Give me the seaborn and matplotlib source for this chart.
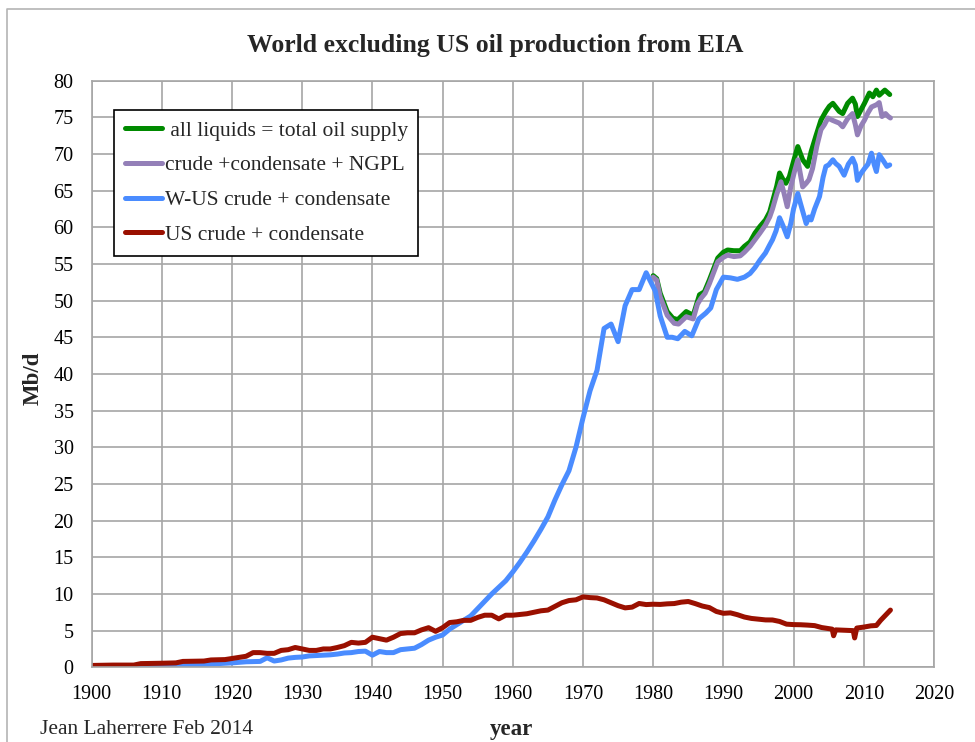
import numpy as np
import pandas as pd
import matplotlib
matplotlib.use("Agg")
import matplotlib.pyplot as plt
from matplotlib.lines import Line2D
import seaborn as sns

# values (Mb/d)
us_years = [1900, 1903, 1906, 1907, 1910, 1912, 1913, 1916, 1917, 1919, 1920, 1921, 1922, 1923,
            1924, 1925, 1926, 1927, 1928, 1929, 1930, 1931, 1932, 1933, 1934, 1935, 1936, 1937,
            1938, 1939, 1940, 1941, 1942, 1943, 1944, 1945, 1946, 1947, 1948, 1949, 1950, 1951,
            1952, 1953, 1954, 1955, 1956, 1957, 1958, 1959, 1960, 1961, 1962, 1963, 1964, 1965,
            1966, 1967, 1968, 1969, 1970, 1971, 1972, 1973, 1974, 1975, 1976, 1977, 1978, 1979,
            1980, 1981, 1982, 1983, 1984, 1985, 1986, 1987, 1988, 1989, 1990, 1991, 1992, 1993,
            1994, 1995, 1996, 1997, 1998, 1999, 2000, 2001, 2002, 2003, 2004, 2005.5, 2005.7,
            2006, 2007, 2008.5, 2008.7, 2009, 2010, 2011, 2011.8, 2012.4, 2013, 2013.8]
us_crude = [0.25, 0.3, 0.3, 0.5, 0.55, 0.6, 0.8, 0.85, 1.0, 1.05, 1.2, 1.35, 1.5, 2.0,
            2.0, 1.9, 1.9, 2.3, 2.4, 2.7, 2.5, 2.3, 2.3, 2.5, 2.5, 2.7, 2.95, 3.4,
            3.3, 3.4, 4.1, 3.9, 3.7, 4.1, 4.6, 4.7, 4.7, 5.1, 5.4, 4.9, 5.4, 6.1,
            6.2, 6.4, 6.4, 6.8, 7.1, 7.1, 6.6, 7.1, 7.1, 7.2, 7.3, 7.5, 7.7, 7.8,
            8.3, 8.8, 9.1, 9.2, 9.6, 9.5, 9.45, 9.2, 8.8, 8.4, 8.1, 8.2, 8.7, 8.55,
            8.6, 8.57, 8.65, 8.69, 8.88, 8.97, 8.68, 8.35, 8.14, 7.61, 7.36, 7.42, 7.17, 6.85,
            6.66, 6.56, 6.46, 6.45, 6.25, 5.88, 5.82, 5.8, 5.75, 5.68, 5.42, 5.2, 4.3,
            5.1, 5.06, 5.0, 4.0, 5.35, 5.48, 5.65, 5.7, 6.4, 7.0, 7.8]

wus_years = [1900, 1905, 1910, 1915, 1918, 1920, 1922, 1924, 1925, 1926, 1927, 1928, 1929, 1930,
             1931, 1932, 1933, 1934, 1935, 1936, 1937, 1938, 1939, 1940, 1941, 1942, 1943, 1944,
             1945, 1946, 1947, 1948, 1949, 1950, 1951, 1952, 1953, 1954, 1955, 1956, 1957, 1958,
             1959, 1960, 1961, 1962, 1963, 1964, 1965, 1966, 1967, 1968, 1969, 1970, 1971, 1972,
             1973, 1974, 1975, 1976, 1977, 1978, 1979, 1980.3, 1981, 1982, 1982.7, 1983.5, 1984.5,
             1985.5, 1986.5, 1987.5, 1988.2, 1989, 1990, 1991, 1992, 1993, 1993.8, 1994.5, 1995.2,
             1996, 1996.6, 1997, 1997.5, 1998, 1998.5, 1999.1, 1999.6, 2000, 2000.6, 2001, 2001.8,
             2002.2, 2002.5, 2003, 2003.7, 2004.2, 2004.6, 2005, 2005.6, 2006, 2006.5, 2007.2,
             2007.8, 2008.4, 2008.8, 2009.1, 2009.5, 2010.1, 2010.6, 2011.1, 2011.5, 2011.8, 2012.2,
             2012.7, 2013.3, 2013.7]
wus_crude = [0.15, 0.2, 0.2, 0.35, 0.5, 0.6, 0.75, 0.8, 1.3, 0.85, 1.0, 1.25, 1.35, 1.4,
             1.55, 1.6, 1.65, 1.7, 1.8, 1.95, 2.0, 2.15, 2.2, 1.65, 2.15, 2.0, 2.0, 2.4,
             2.5, 2.6, 3.1, 3.7, 4.1, 4.4, 5.2, 5.8, 6.4, 7.0, 8.0, 9.0, 10.0, 10.9,
             11.8, 13.0, 14.3, 15.7, 17.2, 18.8, 20.5, 22.8, 24.9, 26.8, 30.0, 34.0, 37.7, 40.5,
             46.2, 46.8, 44.4, 49.3, 51.5, 51.5, 53.8, 51.3, 47.9, 45.0, 45.0, 44.8, 45.8,
             45.2, 47.5, 48.3, 49.0, 51.5, 53.2, 53.1, 52.9, 53.2, 53.7, 54.5, 55.5,
             56.5, 57.6, 58.3, 59.5, 61.3, 60.2, 58.7, 60.5, 62.5, 64.6, 63.2, 60.5,
             61.4, 61.0, 62.5, 64.2, 66.8, 68.3, 68.5, 69.2, 68.7, 68.3, 67.1,
             68.6, 69.4, 68.5, 66.4, 67.2, 68.0, 68.6, 70.1, 68.5, 67.6, 69.9,
             69.2, 68.3, 68.5]

ngpl_years = [1980, 1980.5, 1981, 1982, 1983, 1983.6, 1984.7, 1985.7, 1986.3, 1986.8, 1987.4, 1988,
              1989.2, 1990, 1990.6, 1991.5, 1992.4, 1993, 1993.8, 1994.5, 1995.2, 1996, 1996.6,
              1997, 1997.6, 1998.2, 1998.6, 1999.1, 1999.6, 2000.1, 2000.6, 2001.3, 2001.8, 2002.2,
              2002.7, 2003.3, 2003.9, 2004.4, 2004.9, 2005.5, 2006, 2006.5, 2007, 2007.7, 2008.4,
              2008.8, 2009.1, 2009.6, 2010.1, 2010.6, 2011.1, 2011.8, 2012.2, 2012.6, 2013.1,
              2013.5, 2013.8]
crude_ngpl = [53.2, 52.8, 50.5, 48.0, 46.9, 46.8, 47.8, 47.5, 49.5, 50.3, 51.0, 52.3,
              55.3, 55.9, 56.2, 56.0, 56.1, 56.6, 57.4, 58.3, 59.2, 60.3, 61.4,
              62.5, 64.5, 66.2, 64.8, 62.8, 65.5, 67.5, 69.2, 65.5, 66.0, 66.5,
              68.0, 71.0, 73.3, 74.0, 74.9, 74.6, 74.4, 74.2, 73.7, 74.8, 75.5,
              74.0, 72.6, 73.8, 74.6, 75.6, 76.4, 76.7, 77.0, 75.1, 75.5,
              75.1, 74.9]

liq_years = [1980, 1980.5, 1981, 1982, 1982.8, 1983.5, 1984.7, 1985.7, 1986.6, 1987.3, 1988, 1989.2,
             1990, 1990.6, 1991.5, 1992.4, 1993, 1993.8, 1994.5, 1995.2, 1996, 1996.6, 1997,
             1997.6, 1998, 1998.5, 1998.9, 1999.4, 2000, 2000.6, 2001.3, 2002, 2002.5, 2003.2,
             2003.9, 2004.6, 2005.1, 2005.6, 2006.5, 2007, 2007.7, 2008.4, 2008.8, 2009.1,
             2009.6, 2010.1, 2010.8, 2011.3, 2011.8, 2012.2, 2013, 2013.7]
all_liquids = [53.4, 53.0, 51.0, 48.5, 47.6, 47.4, 48.5, 48.0, 50.8, 51.2, 52.8, 55.8,
               56.6, 56.9, 56.8, 56.8, 57.4, 58.0, 59.2, 60.1, 61.0, 62.1, 63.5,
               65.6, 67.4, 66.5, 66.0, 66.9, 69.0, 71.0, 69.2, 68.3, 70.3, 72.5,
               74.6, 75.8, 76.5, 76.9, 75.8, 75.5, 76.9, 77.6, 76.8, 75.1,
               76.0, 76.9, 78.3, 77.8, 78.7, 78.0, 78.7, 78.1]

series_names = [" all liquids = total oil supply", "crude +condensate + NGPL",
                "W-US crude + condensate", "US crude + condensate"]
colors = ["#008a00", "#9480b8", "#4a8cff", "#9a1000"]

df = pd.concat([
    pd.DataFrame({"year": liq_years, "Mb/d": all_liquids, "series": series_names[0]}),
    pd.DataFrame({"year": ngpl_years, "Mb/d": crude_ngpl, "series": series_names[1]}),
    pd.DataFrame({"year": wus_years, "Mb/d": wus_crude, "series": series_names[2]}),
    pd.DataFrame({"year": us_years, "Mb/d": us_crude, "series": series_names[3]}),
])

sns.set_style("white")
plt.rcParams["font.family"] = ["Liberation Serif", "DejaVu Serif"]

fig = plt.figure(figsize=(9.75, 7.42), dpi=100)
ax = fig.add_axes([0.094, 0.1007, 0.8639, 0.7907])

sns.lineplot(data=df, x="year", y="Mb/d", hue="series", hue_order=series_names,
             palette=colors, estimator=None, linewidth=3.6, legend=False, ax=ax)

grid_c = "#a6a6a6"
ax.set_xlim(1900, 2020)
ax.set_ylim(0, 80)
ax.set_xticks(np.arange(1900, 2021, 10))
ax.set_yticks(np.arange(0, 81, 5))
ax.grid(True, color=grid_c, linewidth=1.2)
ax.set_axisbelow(True)
for s in ax.spines.values():
    s.set_color(grid_c)
    s.set_linewidth(1.2)
ax.tick_params(axis="both", direction="out", length=5, width=1.2, color=grid_c,
               labelsize=14.5, labelcolor="black")
ax.tick_params(axis="x", pad=8)
ax.tick_params(axis="y", pad=8)
ax.set_xlabel("")
ax.set_ylabel("")

handles = [Line2D([0], [0], color=c, linewidth=3.6) for c in colors]
leg = ax.legend(handles, series_names, loc="upper left", bbox_to_anchor=(0.0265, 0.95),
                fontsize=15.5, frameon=True, fancybox=False, edgecolor="black", framealpha=1,
                handlelength=1.75, handletextpad=0.1, labelspacing=0.68, borderpad=0.5,
                borderaxespad=0)
leg.get_frame().set_linewidth(1.2)

fig.text(0.508, 0.939, "World excluding US oil production from EIA", ha="center", va="center",
         fontsize=18.5, fontweight="bold")
fig.text(0.034, 0.49, "Mb/d", rotation=90, ha="center", va="center", fontsize=16.5, fontweight="bold")
fig.text(0.525, 0.017, "year", ha="center", va="center", fontsize=16.5, fontweight="bold")
fig.text(0.041, 0.017, "Jean Laherrere Feb 2014", ha="left", va="center", fontsize=15.5)

# outer frame of the original chart
fig.add_artist(Line2D([0.007, 0.007, 1.0], [0.0, 0.988, 0.988], transform=fig.transFigure,
                      color="#b4b4b4", linewidth=1.2))

fig.savefig("out.png", dpi=100)
